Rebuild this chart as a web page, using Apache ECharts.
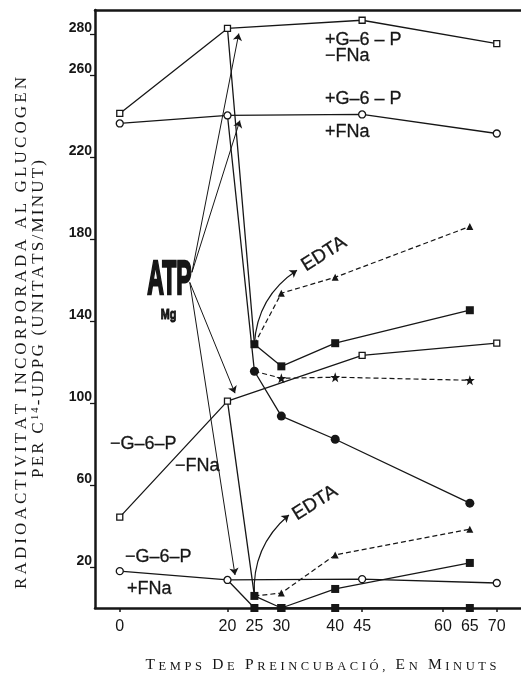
<!DOCTYPE html>
<html>
<head>
<meta charset="utf-8">
<script src="https://cdn.jsdelivr.net/npm/echarts@6/dist/echarts.min.js"></script>
<style>
  html, body { margin: 0; padding: 0; background: #ffffff; }
  #chart { width: 521px; height: 682px; }
</style>
</head>
<body>
<div id="chart"></div>
<script>
// ---- axis ticks ----
const tickMinutes = [0, 20, 25, 30, 40, 45, 60, 65, 70];
const yTickValues = [20, 60, 100, 140, 180, 220, 260, 280];

// ---- control incubations (measured at 0, 20, 45, 70 min) ----
const controlMinutes = [0, 20, 45, 70];
const plusG6P_minusFNa = [241.5, 283, 287, 275.6];
const plusG6P_plusFNa = [236.6, 240.5, 241, 231.7];
const minusG6P_minusFNa = [44.4, 101, 123.4, 129.3];
const minusG6P_plusFNa = [18, 13.7, 14.1, 12.2];

// ---- after ATP-Mg addition at 20 min ----
const atpMinutes = [25, 30, 40, 65];
const atp_plusG6P_minusFNa = [128.8, 118, 129.3, 145.4];
const atp_plusG6P_plusFNa = [115.6, 93.7, 82.4, 51.2];
const atp_minusG6P_minusFNa = [5.9, 0, 9.3, 22];
const atp_minusG6P_plusFNa = [0, 0, 0, 0];

// ---- after EDTA addition at 25 min ----
const edtaMinutes = [30, 40, 65];
const edta_plusG6P_minusFNa = [153.7, 161.5, 186.3];
const edta_plusG6P_plusFNa = [112.2, 112.7, 111.2];
const edta_minusG6P_minusFNa = [7.3, 25.9, 38.5];

const INK = '#161616';
const SANS = '"Liberation Sans", Arial, sans-serif';
const SERIF = '"Liberation Serif", "DejaVu Serif", serif';
const STAR = 'path://M0,-10L2.35,-3.24L9.51,-3.09L3.8,1.24L5.88,8.09L0,4L-5.88,8.09L-3.8,1.24L-9.51,-3.09L-2.35,-3.24Z';

function pairs(xs, ys) { return xs.map((x, i) => [x, ys[i]]); }

// series that branches off an earlier point: first point carries no marker
function branch(startX, startY, xs, ys) {
  return [{ value: [startX, startY], symbol: 'none' }].concat(pairs(xs, ys));
}

const openStyle = { color: '#ffffff', borderColor: INK, borderWidth: 1.3 };
const solidLine = { color: INK, width: 1.3, type: 'solid' };
const dashedLine = { color: INK, width: 1.2, type: [5, 3] };

function lineSeries(name, data, symbol, size, item, line, z) {
  return {
    name, type: 'line', data, symbol, symbolSize: size,
    itemStyle: item, lineStyle: line, z: z, clip: false,
    showSymbol: true, silent: true, animation: false,
    emphasis: { disabled: true }
  };
}

// arrows from the "ATP / Mg" note to the 20-min samples
const arrowUpFrom = [13.4, 163.9];
const arrowDownFrom = [13.0, 159];
const atpArrows = {
  silent: true, animation: false,
  symbol: ['none', 'arrow'], symbolSize: 7,
  label: { show: false },
  lineStyle: { color: INK, width: 1, type: 'solid' },
  emphasis: { disabled: true },
  data: [
    [{ coord: arrowUpFrom }, { coord: [22.1, 280.5] }],
    [{ coord: arrowUpFrom }, { coord: [22.3, 238] }],
    [{ coord: arrowDownFrom }, { coord: [21.4, 104.9] }],
    [{ coord: arrowDownFrom }, { coord: [21.4, 16.1] }]
  ]
};

const series = [
  // ATP branches
  lineSeries('ATP +G6P -FNa', branch(20, plusG6P_minusFNa[1], atpMinutes, atp_plusG6P_minusFNa),
    'rect', 8, { color: INK }, solidLine, 3),
  lineSeries('ATP +G6P +FNa', branch(20, plusG6P_plusFNa[1], atpMinutes, atp_plusG6P_plusFNa),
    'circle', 9, { color: INK }, solidLine, 3),
  lineSeries('ATP -G6P -FNa', branch(20, minusG6P_minusFNa[1], atpMinutes, atp_minusG6P_minusFNa),
    'rect', 8, { color: INK }, solidLine, 3),
  lineSeries('ATP -G6P +FNa', branch(20, minusG6P_plusFNa[1], atpMinutes, atp_minusG6P_plusFNa),
    'rect', 8, { color: INK }, solidLine, 3),
  // EDTA branches
  lineSeries('EDTA +G6P -FNa', branch(25, atp_plusG6P_minusFNa[0], edtaMinutes, edta_plusG6P_minusFNa),
    'triangle', 7, { color: INK }, dashedLine, 2),
  lineSeries('EDTA +G6P +FNa', branch(25, atp_plusG6P_plusFNa[0], edtaMinutes, edta_plusG6P_plusFNa),
    STAR, 10, { color: INK }, dashedLine, 2),
  lineSeries('EDTA -G6P -FNa', branch(25, atp_minusG6P_minusFNa[0], edtaMinutes, edta_minusG6P_minusFNa),
    'triangle', 7, { color: INK }, dashedLine, 2),
  // controls
  lineSeries('+G6P -FNa', pairs(controlMinutes, plusG6P_minusFNa), 'rect', 6, openStyle, solidLine, 5),
  lineSeries('+G6P +FNa', pairs(controlMinutes, plusG6P_plusFNa), 'circle', 7, openStyle, solidLine, 5),
  lineSeries('-G6P -FNa', pairs(controlMinutes, minusG6P_minusFNa), 'rect', 6, openStyle, solidLine, 5),
  lineSeries('-G6P +FNa', pairs(controlMinutes, minusG6P_plusFNa), 'circle', 7, openStyle, solidLine, 5),
  // curved EDTA arrows leaving the 25-min samples
  {
    type: 'lines', coordinateSystem: 'cartesian2d', silent: true, animation: false, z: 4,
    symbol: ['none', 'arrow'], symbolSize: 7,
    lineStyle: { color: INK, width: 1.2, curveness: 0.25, opacity: 1 },
    emphasis: { disabled: true },
    data: [
      { coords: [[atpMinutes[0], atp_plusG6P_minusFNa[0]], [32.9, 164.9]] },
      { coords: [[atpMinutes[0], atp_minusG6P_minusFNa[0]], [31.4, 45.4]] }
    ]
  }
];
series[7].markLine = atpArrows;

// letter-spaced text laid out glyph by glyph inside a (possibly rotated) group
const measureCtx = document.createElement('canvas').getContext('2d');
function spacedText(segments, width, cx, cy, rotation, family) {
  const glyphs = [];
  let sum = 0;
  segments.forEach(seg => {
    for (const ch of seg.t) {
      measureCtx.font = seg.size + 'px ' + family;
      const w = measureCtx.measureText(ch).width;
      glyphs.push({ ch, w, size: seg.size, dy: seg.dy || 0 });
      sum += w;
    }
  });
  const gap = (width - sum) / (glyphs.length - 1);
  let x = -width / 2;
  const children = [];
  glyphs.forEach(g => {
    if (g.ch !== ' ') {
      children.push({
        type: 'text', x: x, y: g.dy,
        style: { text: g.ch, font: g.size + 'px ' + family, fill: INK, align: 'left', verticalAlign: 'bottom' }
      });
    }
    x += g.w + gap;
  });
  return { type: 'group', x: cx, y: cy, rotation: rotation, children, silent: true };
}

function note(text, x, y, size, extra) {
  return Object.assign({
    type: 'text', x, y, silent: true,
    style: { text, font: size + 'px ' + SANS, fill: INK, align: 'left', verticalAlign: 'middle',
             stroke: INK, lineWidth: 0.3 }
  }, extra || {});
}

// small-caps axis title: capitals large, remaining letters small
const BIG = 15.5, SMALL = 12.5;
const xTitle = [
  { t: 'T', size: BIG }, { t: 'EMPS ', size: SMALL },
  { t: 'D', size: BIG }, { t: 'E ', size: SMALL },
  { t: 'P', size: BIG }, { t: 'REINCUBACIÓ, ', size: SMALL },
  { t: 'E', size: BIG }, { t: 'N ', size: SMALL },
  { t: 'M', size: BIG }, { t: 'INUTS', size: SMALL }
];

const graphics = [
  spacedText(xTitle, 351, 321, 673, 0, SERIF),
  spacedText([{ t: 'RADIOACTIVITAT INCORPORADA AL GLUCOGEN', size: 17 }], 512, 30, 333, Math.PI / 2, SERIF),
  spacedText([{ t: 'PER C', size: 17 }, { t: '14', size: 10.5, dy: -6.5 }, { t: '-UDPG (UNITATS/MINUT)', size: 17 }],
    318, 47, 319, Math.PI / 2, SERIF),
  // ATP / Mg note
  { type: 'text', x: 169.5, y: 281, scaleX: 0.48, silent: true,
    style: { text: 'ATP', font: 'bold 48px ' + SANS, fill: INK, align: 'center', verticalAlign: 'middle',
             stroke: INK, lineWidth: 2.5 } },
  { type: 'text', x: 168.5, y: 315, scaleX: 0.72, silent: true,
    style: { text: 'Mg', font: 'bold 15px ' + SANS, fill: INK, align: 'center', verticalAlign: 'middle',
             stroke: INK, lineWidth: 1 } },
  // condition labels
  note('+G–6 – P', 325, 40, 18),
  note('−FNa', 325, 56, 18),
  note('+G–6 – P', 325, 99, 18),
  note('+FNa', 325, 132, 18),
  note('−G–6–P', 110, 444, 18),
  note('−FNa', 175, 466, 18),
  note('−G–6–P', 125, 557, 18),
  note('+FNa', 127, 589, 18),
  // EDTA labels
  { type: 'text', x: 324, y: 254, rotation: 32 * Math.PI / 180, silent: true,
    style: { text: 'EDTA', font: '19px ' + SANS, fill: INK, align: 'center', verticalAlign: 'middle',
             stroke: INK, lineWidth: 0.3 } },
  { type: 'text', x: 315, y: 503, rotation: 32 * Math.PI / 180, silent: true,
    style: { text: 'EDTA', font: '19px ' + SANS, fill: INK, align: 'center', verticalAlign: 'middle',
             stroke: INK, lineWidth: 0.3 } }
];

const chart = echarts.init(document.getElementById('chart'), null, { renderer: 'canvas' });
chart.setOption({
  backgroundColor: '#ffffff',
  animation: false,
  grid: { left: 95, right: 0, top: 10, bottom: 74, containLabel: false },
  xAxis: [
    {
      type: 'value', min: -4.6, max: 74.5,
      axisLine: { show: true, onZero: false, lineStyle: { color: INK, width: 2.5 } },
      axisTick: { show: true, length: 4, customValues: tickMinutes, lineStyle: { color: INK, width: 1.5 } },
      axisLabel: { customValues: tickMinutes, margin: 11, color: INK, fontSize: 16, fontFamily: SANS },
      splitLine: { show: false }
    },
    {
      type: 'value', position: 'top', min: -4.6, max: 74.5,
      axisLine: { show: true, onZero: false, lineStyle: { color: INK, width: 2.5 } },
      axisTick: { show: false }, axisLabel: { show: false }, splitLine: { show: false }
    }
  ],
  yAxis: {
    type: 'value', min: 0, max: 292,
    axisLine: { show: true, onZero: false, lineStyle: { color: INK, width: 2.5 } },
    axisTick: { show: true, length: 5, customValues: yTickValues, lineStyle: { color: INK, width: 1.3 } },
    axisLabel: { customValues: yTickValues, margin: 3, color: INK, fontSize: 14, fontWeight: 'bold',
                 fontFamily: SANS, verticalAlign: 'bottom', lineHeight: 12 },
    splitLine: { show: false }
  },
  series: series,
  graphic: graphics
});
</script>
</body>
</html>
